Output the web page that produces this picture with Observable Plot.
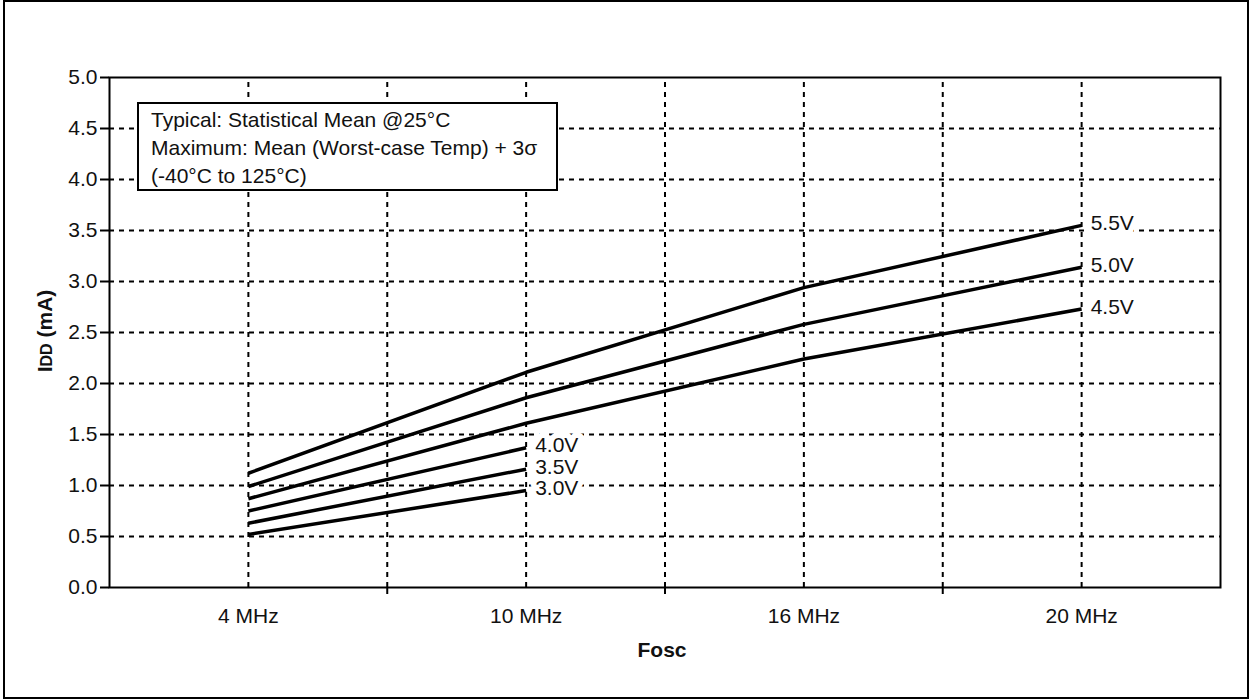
<!DOCTYPE html>
<html>
<head>
<meta charset="utf-8">
<script src="https://cdn.jsdelivr.net/npm/d3@7"></script>
<script src="https://cdn.jsdelivr.net/npm/@observablehq/plot@0.6"></script>
<style>
  html, body { margin: 0; padding: 0; background: #fff; overflow: hidden; }
  #wrap { position: relative; width: 1250px; height: 699px; font-family: "Liberation Sans", Arial, sans-serif; }
  #outer { position: absolute; left: 3px; top: 0; width: 1246px; height: 699px; box-sizing: border-box; border: 2px solid #000; pointer-events: none; }
  #note { position: absolute; left: 137px; top: 102px; width: 421px; height: 89px; box-sizing: border-box;
          border: 2px solid #000; background: #fff; font-size: 21px; line-height: 28px; padding: 2px 0 0 12px; color: #111; white-space: nowrap; }
</style>
</head>
<body>
<div id="wrap">
  <div id="chart"></div>
  <div id="note">Typical: Statistical Mean @25°C<br>Maximum: Mean (Worst-case Temp) + 3σ<br>(-40°C to 125°C)</div>
  <div id="outer"></div>
</div>
<script>
// ---- data ----
const categories = ["4 MHz", "10 MHz", "16 MHz", "20 MHz"];
const seriesNames = ["5.5V", "5.0V", "4.5V", "4.0V", "3.5V", "3.0V"];
const v55 = [1.12, 2.11, 2.94, 3.55];
const v50 = [0.99, 1.86, 2.58, 3.14];
const v45 = [0.87, 1.61, 2.24, 2.73];
const v40 = [0.75, 1.37];
const v35 = [0.63, 1.16];
const v30 = [0.52, 0.95];
const yTicks = [0, 0.5, 1.0, 1.5, 2.0, 2.5, 3.0, 3.5, 4.0, 4.5, 5.0];
const yGrid = [0.5, 1.0, 1.5, 2.0, 2.5, 3.0, 3.5, 4.0, 4.5];

const seriesValues = [v55, v50, v45, v40, v35, v30];
const rows = [];
seriesValues.forEach((vals, si) => vals.forEach((v, i) => rows.push({s: seriesNames[si], i, v})));
const ends = seriesValues.map((vals, si) => ({s: seriesNames[si], i: vals.length - 1, v: vals[vals.length - 1]}));
const centers = categories.map((c, i) => i);
const bounds = categories.slice(1).map((c, i) => i + 0.5);

const dash = "5,5";
const chart = Plot.plot({
  width: 1250,
  height: 699,
  marginLeft: 109,
  marginRight: 30,
  marginTop: 77,
  marginBottom: 112,
  style: {fontFamily: "'Liberation Sans', Arial, sans-serif", fontSize: "21px", color: "#111", background: "#fff"},
  x: {type: "linear", domain: [-0.5, categories.length - 0.5]},
  y: {domain: [0, 5]},
  marks: [
    Plot.ruleY(yGrid, {stroke: "#000", strokeWidth: 2, strokeDasharray: dash}),
    Plot.ruleX(centers, {y1: 0, y2: 5, stroke: "#000", strokeWidth: 2, strokeDasharray: dash}),
    Plot.ruleX(bounds, {y1: 0, y2: 5, stroke: "#000", strokeWidth: 2, strokeDasharray: dash}),
    Plot.axisY({ticks: yTicks, tickFormat: d3.format(".1f"), tickSize: 9, tickPadding: 3, strokeWidth: 2, stroke: "#000", label: null, fill: "#111"}),
    Plot.axisX({ticks: bounds, tickSize: 7, tickFormat: () => "", strokeWidth: 2, stroke: "#000", label: null}),
    Plot.axisX({ticks: centers, tickSize: 0, tickPadding: 21, tickFormat: (d) => categories[d], label: null, fill: "#111"}),
    Plot.line(rows, {x: "i", y: "v", z: "s", stroke: "#000", strokeWidth: 3.5, strokeLinecap: "butt"}),
    Plot.text(ends, {x: "i", y: "v", text: "s", textAnchor: "start", dx: 9, dy: -2, fill: "#111", stroke: "#fff", strokeWidth: 11, strokeLinejoin: "round", fontSize: 21}),
    Plot.frame({stroke: "#000", strokeWidth: 2})
  ]
});
document.getElementById("chart").appendChild(chart);

const svg = d3.select(chart);
const yl = svg.append("text")
  .attr("transform", "translate(51.5,331) rotate(-90)")
  .attr("text-anchor", "middle")
  .attr("font-weight", "bold")
  .attr("font-size", 21)
  .attr("fill", "#111");
yl.append("tspan").text("I");
yl.append("tspan").attr("font-size", 16).text("DD");
yl.append("tspan").text(" (mA)");
svg.append("text")
  .attr("x", 662).attr("y", 657)
  .attr("text-anchor", "middle")
  .attr("font-weight", "bold")
  .attr("font-size", 21)
  .attr("fill", "#111")
  .text("Fosc");
</script>
</body>
</html>
